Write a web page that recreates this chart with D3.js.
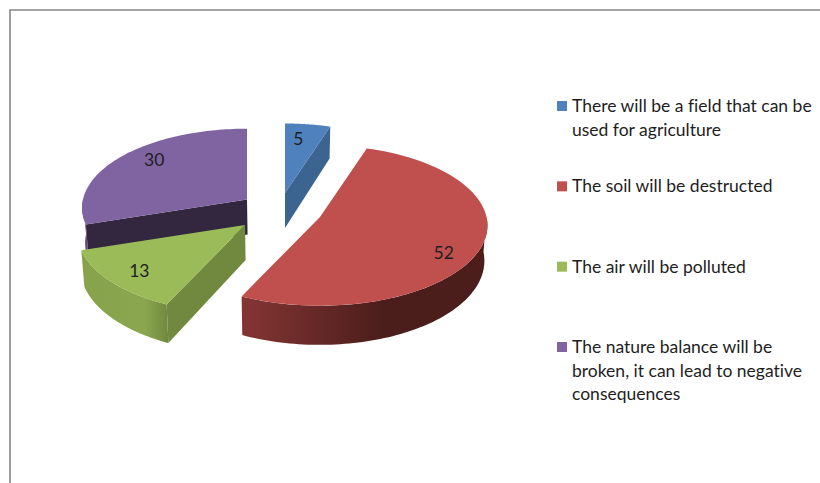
<!DOCTYPE html>
<html>
<head>
<meta charset="utf-8">
<script src="https://cdn.jsdelivr.net/npm/d3@7/dist/d3.min.js"></script>
<style>
html,body{margin:0;padding:0;background:#fff}
svg{display:block}
text{font-family:Lato,"Open Sans",sans-serif;fill:#1e1e1e;font-variant-ligatures:none}
</style>
</head>
<body>
<svg id="c" width="820" height="483"></svg>
<script>
// Data
const categories = [
  "There will be a field that can be used for agriculture",
  "The soil will be destructed",
  "The air will be polluted",
  "The nature balance will be broken, it can lead to negative consequences"
];
const values = [5, 52, 13, 30];
const topColors = ["#4f81bd", "#c0504d", "#9bbb59", "#8064a2"];
const cutColors = ["#3b6491", "#7f3331", "#71893e", "#33263f"];
const legendLines = [
  ["There will be a field that can be", "used for agriculture"],
  ["The soil will be destructed"],
  ["The air will be polluted"],
  ["The nature balance will be", "broken, it can lead to negative", "consequences"]
];

// Layout
const W = 820, H = 483;
const R = 166.5, tilt = 0.4766, persp = 0.1056, depth = 35, focusX = 285, bottomShrink = 0.985;
const apexes = [[285, 193], [320, 217], [245, 225], [247, 199.5]];
const sliceScale = [0.965, 1, 1, 0.985];
const drawOrder = [0, 3, 2, 1];
const labelRho = [0.72, 0.72, 0.72, 0.72];
const labelNudge = [[-4, -2], [9, 14], [-11, 6], [0, -7]];
const wallStops = [
  null,
  [[244, "#843533"], [320, "#642827"], [385, "#4b1d1b"], [487, "#4b1d1b"]],
  [[81, "#86a24b"], [145, "#8aa64e"], [167, "#728a3f"]],
  [[80, "#5f4a7a"], [90, "#5f4a7a"]]
];

const svg = d3.select("#c");
const defs = svg.append("defs");

// frame
svg.append("path").attr("d", `M10,${H}V10H${W}`).attr("fill", "none")
  .attr("stroke", "#868686").attr("stroke-width", 1.6);

const pie = d3.pie().sort(null).value(d => d);
const arcs = pie(values);

function proj(apex, a, rho = 1) {
  const c = Math.cos(a), s = Math.sin(a);
  const f = 1 / (1 + persp * rho * c);
  return { x: apex[0] + R * rho * s * f, y: apex[1] - R * rho * c * tilt * f, f };
}
function down(p) {
  return [focusX + (p.x - focusX) * bottomShrink, p.y + depth * p.f];
}
const line = d3.line();

drawOrder.forEach(i => {
  const d = arcs[i];
  const apex = apexes[i];
  const sc = sliceScale[i];
  const n = 80;
  const angles = d3.range(n + 1).map(k => d.startAngle + (d.endAngle - d.startAngle) * k / n);
  const rim = angles.map(a => proj(apex, a, sc));
  const g = svg.append("g");

  // outer wall, front half only
  const lo = Math.max(d.startAngle, Math.PI / 2), hi = Math.min(d.endAngle, Math.PI * 1.5);
  if (hi > lo && wallStops[i]) {
    const id = "wall" + i;
    const xs = wallStops[i].map(s => s[0]);
    const x0 = xs[0], x1 = xs[xs.length - 1];
    const lg = defs.append("linearGradient").attr("id", id)
      .attr("gradientUnits", "userSpaceOnUse")
      .attr("x1", x0).attr("x2", x1).attr("y1", 0).attr("y2", 0);
    wallStops[i].forEach(s => lg.append("stop")
      .attr("offset", (s[0] - x0) / (x1 - x0)).attr("stop-color", s[1]));
    const wa = d3.range(n + 1).map(k => proj(apex, lo + (hi - lo) * k / n, sc));
    const pts = wa.map(p => [p.x, p.y]).concat(wa.slice().reverse().map(down));
    g.append("path").attr("d", line(pts) + "Z").attr("fill", `url(#${id})`);
  }

  // cut faces that face the viewer
  const cut = a => {
    const r = proj(apex, a, sc), c = { x: apex[0], y: apex[1], f: 1 };
    const pts = [[c.x, c.y], [r.x, r.y], down(r), down(c)];
    g.append("path").attr("d", line(pts) + "Z").attr("fill", cutColors[i]);
  };
  if (Math.sin(d.startAngle) < -1e-6) cut(d.startAngle);
  if (Math.sin(d.endAngle) > 1e-6) cut(d.endAngle);

  // top face
  const top = [apex].concat(rim.map(p => [p.x, p.y]));
  g.append("path").attr("d", line(top) + "Z").attr("fill", topColors[i]);
});

// value labels
arcs.forEach((d, i) => {
  const p = proj(apexes[i], (d.startAngle + d.endAngle) / 2, labelRho[i]);
  svg.append("text")
    .attr("x", p.x + labelNudge[i][0]).attr("y", p.y + labelNudge[i][1])
    .attr("dy", "0.35em").attr("text-anchor", "middle")
    .attr("font-size", 17.5).text(d.data);
});

// legend
const legendY = d3.scalePoint().domain(d3.range(categories.length)).range([106, 347]);
categories.forEach((c, i) => {
  const y = legendY(i);
  svg.append("rect").attr("x", 557).attr("y", y - 5).attr("width", 10).attr("height", 10)
    .attr("fill", topColors[i]);
  legendLines[i].forEach((t, j) => {
    svg.append("text").attr("x", 572).attr("y", y + j * 23.5)
      .attr("dy", "0.35em").attr("font-size", 17.5).text(t);
  });
});
</script>
</body>
</html>
